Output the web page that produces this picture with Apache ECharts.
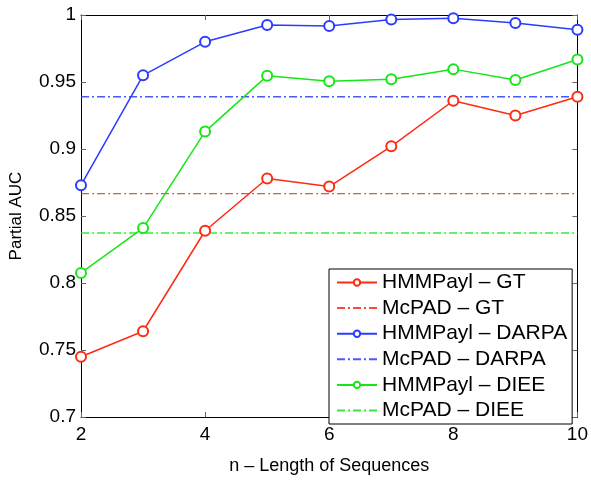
<!DOCTYPE html>
<html><head><meta charset="utf-8">
<script src="https://cdn.jsdelivr.net/npm/echarts@6/dist/echarts.min.js"></script>
<style>html,body{margin:0;padding:0;background:#fff}#c{width:591px;height:480px}</style>
</head><body><div id="c"></div>
<script>
const nValues = [2, 3, 4, 5, 6, 7, 8, 9, 10];
const hmmGT    = [0.745, 0.764, 0.839, 0.878, 0.872, 0.902, 0.936, 0.925, 0.939];
const hmmDARPA = [0.873, 0.955, 0.980, 0.9925, 0.9918, 0.9966, 0.9976, 0.994, 0.989];
const hmmDIEE  = [0.8075, 0.841, 0.913, 0.9546, 0.9506, 0.952, 0.9596, 0.9515, 0.9668];
const mcpadGT = 0.8667;
const mcpadDARPA = 0.939;
const mcpadDIEE = 0.8373;
const seriesNames = ['HMMPayl – GT','McPAD – GT','HMMPayl – DARPA','McPAD – DARPA','HMMPayl – DIEE','McPAD – DIEE'];

const RED = '#ff2a12', BLUE = '#2a3cff', GREEN = '#16e616';
const FONT = '"Liberation Sans", Arial, sans-serif';
const dashDot = [8, 3, 2, 3];

function pts(arr){ return nValues.map((x,i)=>[x, arr[i]]); }
function hline(v){ return [[nValues[0], v], [nValues[nValues.length-1], v]]; }

function solid(name, data, color){
  return {name, type:'line', data:pts(data), symbol:'emptyCircle', symbolSize:10,
    itemStyle:{color, borderWidth:1.4}, lineStyle:{color, width:1.5}, z:3};
}
function dashed(name, v, color){
  return {name, type:'line', data:hline(v), symbol:'none', showSymbol:false,
    itemStyle:{color}, lineStyle:{color, width:1.4, type:dashDot, opacity:0.85}, z:2};
}

const legendData = seriesNames.map((n,i)=> i%2===1
  ? {name:n, itemStyle:{opacity:0}}
  : {name:n, itemStyle:{borderWidth:1.2}});

const chart = echarts.init(document.getElementById('c'));
const tickStyle = {show:true, inside:true, length:5, lineStyle:{color:'#666'}};
chart.setOption({
  animation:false,
  backgroundColor:'#fff',
  textStyle:{fontFamily:FONT},
  grid:{left:81, right:13, top:15, bottom:46},
  xAxis:[{
    type:'value', min:2, max:10, interval:2,
    name:'n – Length of Sequences', nameLocation:'middle', nameGap:40,
    nameTextStyle:{fontFamily:FONT, fontSize:18, color:'#000'},
    axisLine:{show:true, lineStyle:{color:'#000', width:1}},
    axisTick:tickStyle, splitLine:{show:false},
    axisLabel:{fontFamily:FONT, fontSize:19, color:'#000', margin:8}
  },{
    type:'value', min:2, max:10, interval:2, position:'top',
    axisLine:{show:true, lineStyle:{color:'#000', width:1}},
    axisTick:tickStyle, splitLine:{show:false}, axisLabel:{show:false}
  }],
  yAxis:[{
    type:'value', min:0.7, max:1, interval:0.05,
    name:'Partial AUC', nameLocation:'middle', nameGap:56,
    nameTextStyle:{fontFamily:FONT, fontSize:17, color:'#000'},
    axisLine:{show:true, lineStyle:{color:'#000', width:1}},
    axisTick:tickStyle, splitLine:{show:false},
    axisLabel:{fontFamily:FONT, fontSize:19, color:'#000', margin:5}
  },{
    type:'value', min:0.7, max:1, interval:0.05, position:'right',
    axisLine:{show:true, lineStyle:{color:'#000', width:1}},
    axisTick:tickStyle, splitLine:{show:false}, axisLabel:{show:false}
  }],
  legend:{
    orient:'vertical', left:329, top:269,
    data:legendData,
    backgroundColor:'#fff', borderColor:'#000', borderWidth:1,
    padding:[3, 5, 3, 7],
    itemWidth:40, itemHeight:8, itemGap:4.6, itemTextGap:5,
    textStyle:{fontFamily:FONT, fontSize:21, color:'#000'}
  },
  series:[
    solid(seriesNames[0], hmmGT, RED),
    dashed(seriesNames[1], mcpadGT, RED),
    solid(seriesNames[2], hmmDARPA, BLUE),
    dashed(seriesNames[3], mcpadDARPA, BLUE),
    solid(seriesNames[4], hmmDIEE, GREEN),
    dashed(seriesNames[5], mcpadDIEE, GREEN)
  ]
});
</script></body></html>
